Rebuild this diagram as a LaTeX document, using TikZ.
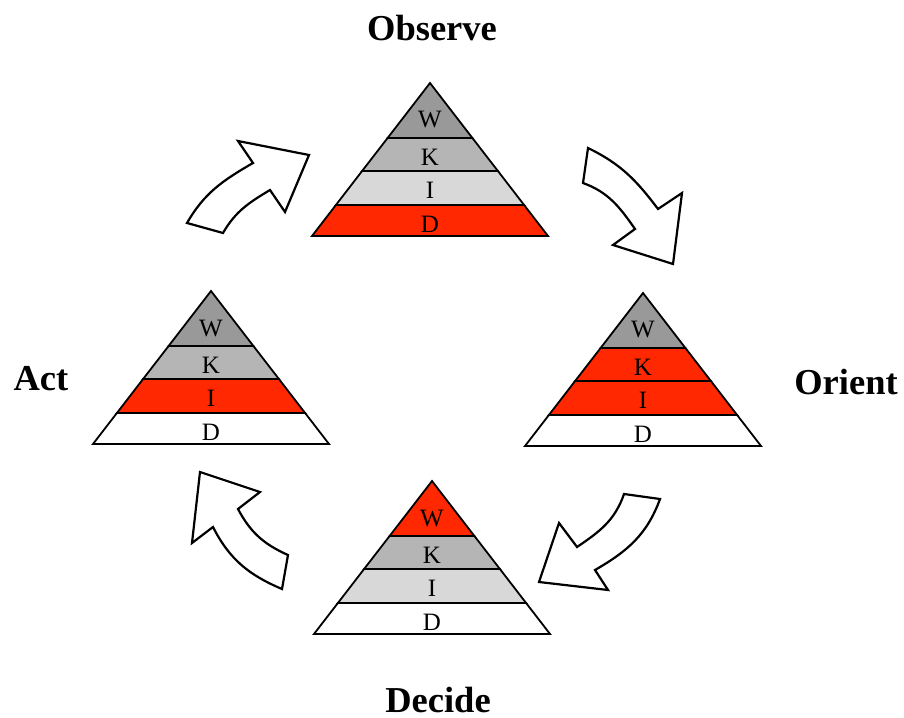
\documentclass[tikz,border=0pt]{standalone}
\usepackage{fontspec}
\setmainfont{Liberation Serif}
\usetikzlibrary{calc}
\definecolor{layerW}{RGB}{153,153,153}
\definecolor{layerK}{RGB}{181,181,181}
\definecolor{layerI}{RGB}{216,216,216}
\definecolor{hot}{RGB}{255,40,0}

\tikzset{
  layer/.style={draw=black, line width=1.8pt, line join=miter},
  letter/.style={font=\fontsize{25}{27}\selectfont, inner sep=0pt},
  phase/.style={font=\fontsize{36.5}{40}\selectfont\bfseries, inner sep=0pt},
  turn/.style={draw=black, fill=white, line width=2.2pt, line join=miter},
}

% #1 name, #2 apex, #3..#6 fills of W K I D
\newcommand{\pyramid}[6]{%
  \begin{scope}[shift={#2}]
    \filldraw[layer, fill=#6] (-94.1,-122) -- (94.1,-122) -- (118,-153) -- (-118,-153) -- cycle;
    \filldraw[layer, fill=#5] (-67.9,-88) -- (67.9,-88) -- (94.1,-122) -- (-94.1,-122) -- cycle;
    \filldraw[layer, fill=#4] (-42.4,-55) -- (42.4,-55) -- (67.9,-88) -- (-67.9,-88) -- cycle;
    \filldraw[layer, fill=#3] (0,0) -- (42.4,-55) -- (-42.4,-55) -- cycle;
    \node[letter] (#1-W) at (0,-37) {W};
    \node[letter] (#1-K) at (0,-74) {K};
    \node[letter] (#1-I) at (0,-107) {I};
    \node[letter] (#1-D) at (0,-141) {D};
  \end{scope}}

\begin{document}
\begin{tikzpicture}[x=1pt, y=1pt]
  \useasboundingbox (0,0) rectangle (904,-717);

  % pyramids
  \pyramid{obs}{(430,-83)}{layerW}{layerK}{layerI}{hot}
  \pyramid{ori}{(643,-293)}{layerW}{hot}{hot}{white}
  \pyramid{act}{(211,-291)}{layerW}{layerK}{hot}{white}
  \pyramid{dec}{(432,-481)}{hot}{layerK}{layerI}{white}

  % phase names
  \node[phase] (observe) at (432,-28) {Observe};
  \node[phase] (orient) at (846,-382) {Orient};
  \node[phase] (decide) at (438,-700) {Decide};
  \node[phase] (act) at (41,-379) {Act};

  % curved block arrows
  \draw[turn] (187,-223) to[out=60,in=210] (253,-163) -- (238,-141) -- (309,-155)
    -- (285,-212) -- (270,-190) to[out=211,in=60] (223,-233) -- cycle;
  \draw[turn] (588,-148) to[out=-26,in=127] (658,-209) -- (682,-193) -- (673,-264)
    -- (613,-245) -- (635,-229) to[out=125,in=-20] (583,-183) -- cycle;
  \draw[turn] (660,-499) to[out=250,in=30] (595,-570) -- (608,-590) -- (539,-582)
    -- (559,-523) -- (577,-547) to[out=34,in=251] (624,-494) -- cycle;
  \draw[turn] (200,-472) -- (260,-492) -- (238,-509) to[out=-62,in=156] (288,-555)
    -- (282,-589) to[out=157,in=-63] (213,-527) -- (192,-543) -- cycle;
\end{tikzpicture}
\end{document}
